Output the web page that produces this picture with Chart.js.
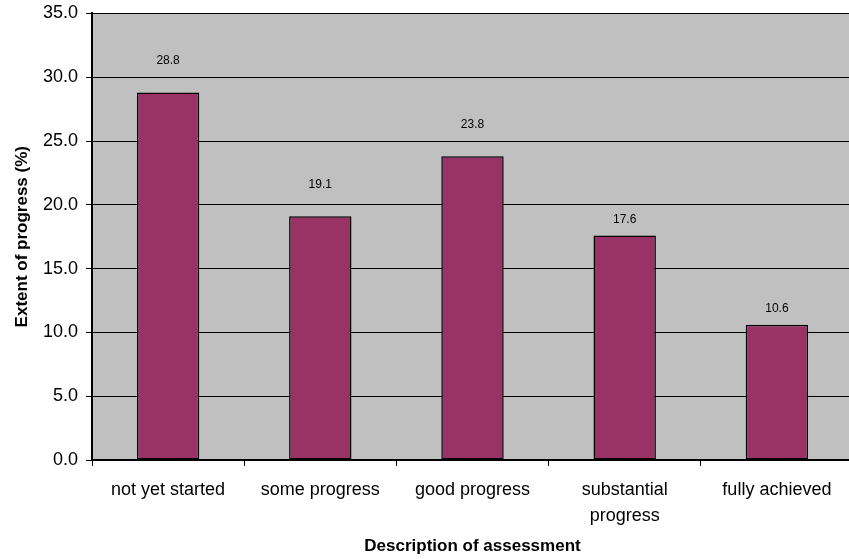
<!DOCTYPE html>
<html>
<head>
<meta charset="utf-8">
<script src="https://cdn.jsdelivr.net/npm/chart.js@4/dist/chart.umd.min.js"></script>
<style>
  html, body { margin: 0; padding: 0; background: #ffffff; overflow: hidden; }
  #wrap { width: 853px; height: 559px; }
</style>
</head>
<body>
<div id="wrap"><canvas id="c" width="853" height="559"></canvas></div>
<script>
// Assessment categories and the share of each (%)
const categories = ['not yet started', 'some progress', 'good progress', ['substantial', 'progress'], 'fully achieved'];
const progressValues = [28.8, 19.1, 23.8, 17.6, 10.6];
const yTicks = { min: 0, max: 35, step: 5 };

const FONT = '"Liberation Sans", Arial, sans-serif';

// Grey plot-area fill behind the grid
const plotBackground = {
  id: 'plotBackground',
  beforeDraw(chart) {
    const { ctx, chartArea: a } = chart;
    ctx.save();
    ctx.fillStyle = '#c0c0c0';
    ctx.fillRect(a.left, a.top, a.right - a.left, a.bottom - a.top);
    ctx.restore();
  }
};

// Value labels above each bar
const valueLabels = {
  id: 'valueLabels',
  afterDatasetsDraw(chart) {
    const { ctx } = chart;
    const meta = chart.getDatasetMeta(0);
    const data = chart.data.datasets[0].data;
    ctx.save();
    ctx.font = '12px ' + FONT;
    ctx.fillStyle = '#000000';
    ctx.textAlign = 'center';
    ctx.textBaseline = 'middle';
    meta.data.forEach((bar, i) => {
      const lift = data[i] > 18 ? 32 : 16;
      ctx.fillText(data[i].toFixed(1), bar.x, bar.y - lift);
    });
    ctx.restore();
  }
};

new Chart(document.getElementById('c'), {
  type: 'bar',
  data: {
    labels: categories,
    datasets: [{
      data: progressValues,
      backgroundColor: '#993366',
      borderColor: '#000000',
      borderWidth: 1.5,
      borderSkipped: false,
      barPercentage: 0.41,
      categoryPercentage: 1.0
    }]
  },
  options: {
    responsive: false,
    animation: false,
    layout: { padding: { left: 0, right: 0, top: 12, bottom: 0 } },
    plugins: {
      legend: { display: false },
      tooltip: { enabled: false }
    },
    scales: {
      x: {
        offset: true,
        grid: {
          offset: true,
          drawOnChartArea: false,
          drawTicks: true,
          tickLength: 6,
          color: '#000000',
          lineWidth: 1
        },
        border: { display: true, color: '#000000', width: 2 },
        ticks: {
          color: '#000000',
          font: { family: FONT, size: 18, lineHeight: 1.45 },
          padding: 11,
          maxRotation: 0,
          autoSkip: false
        },
        title: {
          display: true,
          text: 'Description of assessment',
          color: '#000000',
          font: { family: FONT, size: 17, weight: 'bold' },
          padding: { top: 0, bottom: 2 }
        },
        afterFit(scale) { scale.height = 99; }
      },
      y: {
        min: yTicks.min,
        max: yTicks.max,
        grid: {
          color: '#000000',
          lineWidth: 1,
          drawTicks: true,
          tickLength: 6
        },
        border: { display: true, color: '#000000', width: 2 },
        ticks: {
          stepSize: yTicks.step,
          color: '#000000',
          font: { family: FONT, size: 18, lineHeight: 0.6 },
          padding: 8,
          callback: (v) => Number(v).toFixed(1)
        },
        title: {
          display: true,
          text: 'Extent of progress (%)',
          color: '#000000',
          font: { family: FONT, size: 17, weight: 'bold' },
          padding: { top: 12, bottom: 0 }
        },
        afterFit(scale) { scale.width = 92; }
      }
    }
  },
  plugins: [plotBackground, valueLabels]
});
</script>
</body>
</html>
